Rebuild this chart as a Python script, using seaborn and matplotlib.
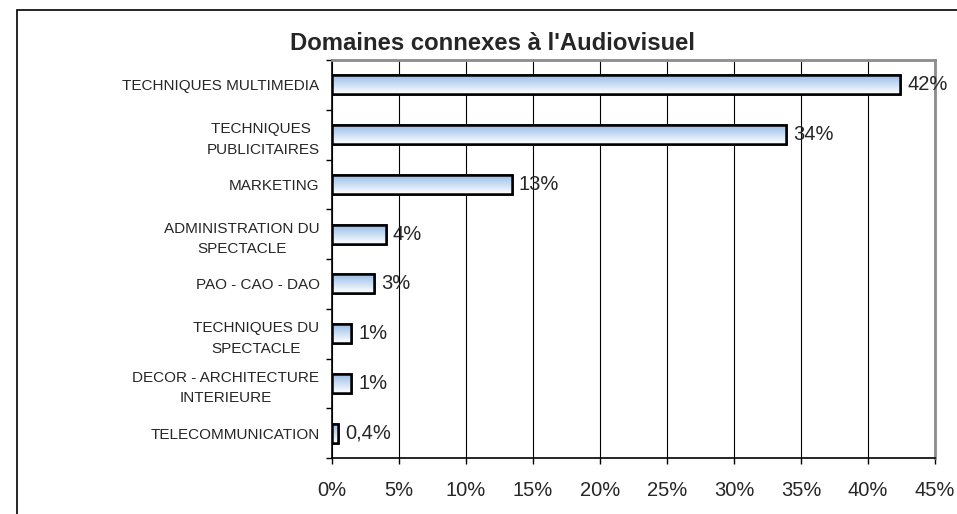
import matplotlib
matplotlib.use('Agg')
import matplotlib.pyplot as plt
import matplotlib.patches as mpatches
from matplotlib.colors import LinearSegmentedColormap
from matplotlib.ticker import FixedLocator, PercentFormatter
import seaborn as sns
import numpy as np
import pandas as pd

# data
categories = ['TECHNIQUES MULTIMEDIA', 'TECHNIQUES \nPUBLICITAIRES', 'MARKETING',
              'ADMINISTRATION DU\nSPECTACLE', 'PAO - CAO - DAO', 'TECHNIQUES DU\nSPECTACLE',
              'DECOR - ARCHITECTURE\nINTERIEURE', 'TELECOMMUNICATION']
values = [42.4, 33.9, 13.4, 4.0, 3.1, 1.45, 1.45, 0.45]
value_labels = ['42%', '34%', '13%', '4%', '3%', '1%', '1%', '0,4%']
x_ticks = [0, 5, 10, 15, 20, 25, 30, 35, 40, 45]

df = pd.DataFrame({'domaine': categories, 'part': values})

sns.set_style('white')
plt.rcParams['font.family'] = ['Liberation Sans', 'DejaVu Sans']

fig = plt.figure(figsize=(9.57, 5.14), dpi=100)
ax = fig.add_axes([332 / 957, 1 - 458 / 514, (935 - 332) / 957, (458 - 60) / 514])

sns.barplot(data=df, x='part', y='domaine', orient='h', ax=ax, width=0.38,
            color='#cfe0f5', edgecolor='black', linewidth=1.8, zorder=3)

# gradient fill clipped to each bar
cmap = LinearSegmentedColormap.from_list('grad', ['#98bde8', '#ffffff'])
grad = np.linspace(0, 1, 64).reshape(-1, 1)
for p in ax.patches:
    x0, y0 = p.get_x(), p.get_y()
    w, h = p.get_width(), p.get_height()
    im = ax.imshow(grad, cmap=cmap, aspect='auto', extent=(x0, x0 + w, y0 + h, y0),
                   zorder=3.5, interpolation='bilinear')
    im.set_clip_path(p)
    edge = mpatches.Rectangle((x0, y0), w, h, fill=False, edgecolor='black',
                              linewidth=1.8, zorder=4)
    ax.add_patch(edge)

ax.set_xlim(0, 45)
ax.set_ylim(7.5, -0.5)

# value labels
for i, (v, lab) in enumerate(zip(values, value_labels)):
    ax.text(v + 0.55, i, lab, va='center', ha='left', fontsize=14.5, zorder=5)

ax.xaxis.set_major_locator(FixedLocator(x_ticks))
ax.xaxis.set_major_formatter(PercentFormatter(decimals=0))
ax.grid(axis='x', color='black', linewidth=0.8, zorder=0)
ax.set_axisbelow(True)

ax.set_yticks(range(len(categories)))
ax.set_yticklabels(categories, multialignment='center', linespacing=1.6)
ax.yaxis.set_minor_locator(FixedLocator(np.arange(-0.5, 8, 1)))
ax.tick_params(axis='y', which='major', length=0, pad=9, labelsize=11)
ax.tick_params(axis='y', which='minor', left=True, length=4.5, width=1, color='black')
ax.tick_params(axis='x', which='major', bottom=True, length=4.5, width=1, color='black',
               pad=12, labelsize=14.5)

ax.set_xlabel('')
ax.set_ylabel('')

for side in ['left', 'bottom']:
    ax.spines[side].set_color('black')
    ax.spines[side].set_linewidth(1.2)
for side in ['top', 'right']:
    ax.spines[side].set_color('#8c8c8c')
    ax.spines[side].set_linewidth(2)

fig.text(493 / 957, 1 - 43 / 514, "Domaines connexes à l'Audiovisuel", ha='center', va='center',
         fontsize=17.2, fontweight='bold')

# outer chart frame
frame = mpatches.Rectangle((17 / 957, -0.1), 2, 1 - 10 / 514 + 0.1, transform=fig.transFigure,
                           fill=False, edgecolor='black', linewidth=1.2, clip_on=False)
fig.patches.append(frame)

fig.savefig('out.png', dpi=100)
